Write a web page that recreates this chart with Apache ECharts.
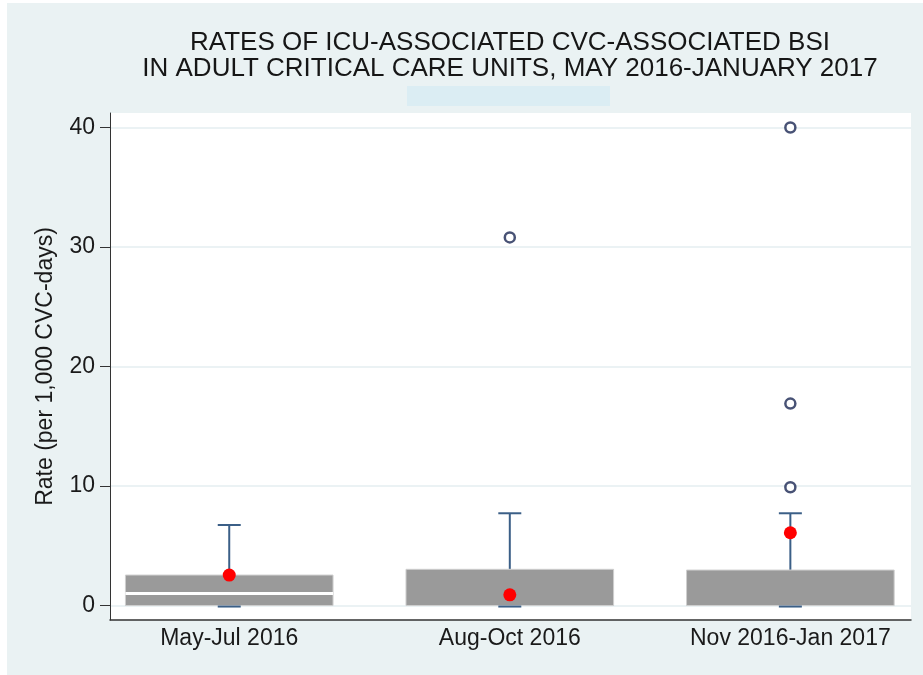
<!DOCTYPE html>
<html>
<head>
<meta charset="utf-8">
<script src="https://cdn.jsdelivr.net/npm/echarts@6/dist/echarts.min.js"></script>
<style>
  html, body { margin: 0; padding: 0; background: #fff; }
  #chart { width: 923px; height: 675px; }
</style>
</head>
<body>
<div id="chart"></div>
<script>
// Title lines
const titleLines = [
  'RATES OF ICU-ASSOCIATED CVC-ASSOCIATED BSI',
  'IN ADULT CRITICAL CARE UNITS, MAY 2016-JANUARY 2017'
];
const yAxisName = 'Rate (per 1,000 CVC-days)';

// Categories sit at x = 1, 2, 3
const categories = ['May-Jul 2016', 'Aug-Oct 2016', 'Nov 2016-Jan 2017'];
const yTicks = [0, 10, 20, 30, 40];

// Box plot summaries
const lowerAdjacent = [0, 0, 0];
const q1 = [0, 0, 0];
const median = [1.0, 0, 0];
const q3 = [2.55, 3.03, 2.97];
const upperAdjacent = [6.74, 7.72, 7.72];

// Means (red dots)
const means = [2.55, 0.9, 6.09];

// Outside values: [category index (1-based), rate]
const outliers = [
  [2, 30.8],
  [3, 40.0],
  [3, 16.9],
  [3, 9.9]
];

const FONT = "'Liberation Sans', Arial, sans-serif";
const BG = '#eaf2f3';
const WHISKER = '#3b5f87';
const BOX_W = 0.74;   // box width in x units
const CAP = 11.5;     // half cap width, px

const boxData = categories.map((c, i) =>
  [i + 1, lowerAdjacent[i], q1[i], median[i], q3[i], upperAdjacent[i]]);
const meanData = means.map((m, i) => [i + 1, m]);

const chart = echarts.init(document.getElementById('chart'));

const option = {
  backgroundColor: BG,
  animation: false,
  textStyle: { fontFamily: FONT },
  graphic: [
    { type: 'rect', left: 0, top: 0, shape: { width: 7, height: 675 }, style: { fill: '#fff' } },
    { type: 'rect', left: 0, top: 0, shape: { width: 923, height: 3 }, style: { fill: '#fff' } },
    { type: 'rect', left: 407, top: 86, shape: { width: 203, height: 20 }, style: { fill: '#dbedf3' } },
    {
      type: 'text', x: 510, y: 43,
      style: { text: titleLines[0], font: '26px ' + FONT, fill: '#161616', align: 'center', verticalAlign: 'middle' }
    },
    {
      type: 'text', x: 510, y: 69,
      style: { text: titleLines[1], font: '26px ' + FONT, fill: '#161616', align: 'center', verticalAlign: 'middle' }
    }
  ],
  grid: {
    left: 110,
    right: 12,
    top: 113,
    bottom: 55,
    show: true,
    backgroundColor: '#fff',
    borderWidth: 0
  },
  xAxis: {
    type: 'value',
    min: 0.575,
    max: 3.43,
    axisLine: { show: true, onZero: false, lineStyle: { color: '#333', width: 1.5 } },
    axisTick: { show: false },
    splitLine: { show: false },
    axisLabel: {
      customValues: [1, 2, 3],
      formatter: v => categories[Math.round(v) - 1] || '',
      color: '#1a1a1a',
      fontSize: 23,
      margin: 7
    }
  },
  yAxis: {
    type: 'value',
    min: -1.21,
    max: 41.21,
    name: yAxisName,
    nameLocation: 'middle',
    nameGap: 53,
    nameTextStyle: { color: '#1a1a1a', fontSize: 23 },
    axisLine: { show: true, onZero: false, lineStyle: { color: '#333', width: 1 } },
    axisTick: { show: true, customValues: yTicks, length: 10, lineStyle: { color: '#333' } },
    axisLabel: { customValues: yTicks, color: '#1a1a1a', fontSize: 23, margin: 15 },
    splitLine: { show: true, lineStyle: { color: '#e4eef0', width: 1.5 } }
  },
  series: [
    {
      name: 'Box',
      type: 'custom',
      data: boxData,
      encode: { x: 0, y: [1, 2, 3, 4, 5] },
      z: 2,
      renderItem: function (params, api) {
        const x = api.value(0);
        const pLow = api.coord([x, api.value(1)]);
        const pQ1 = api.coord([x, api.value(2)]);
        const pMed = api.coord([x, api.value(3)]);
        const pQ3 = api.coord([x, api.value(4)]);
        const pHigh = api.coord([x, api.value(5)]);
        const half = api.size([BOX_W, 0])[0] / 2;
        const cx = pQ3[0];
        const wStyle = { stroke: WHISKER, lineWidth: 2 };
        const children = [
          { type: 'line', shape: { x1: cx, y1: pQ3[1], x2: cx, y2: pHigh[1] }, style: wStyle },
          { type: 'line', shape: { x1: cx - CAP, y1: pHigh[1], x2: cx + CAP, y2: pHigh[1] }, style: wStyle },
          {
            type: 'rect',
            shape: { x: cx - half, y: pQ3[1], width: half * 2, height: pQ1[1] - pQ3[1] },
            style: { fill: '#9a9a9a', stroke: '#cfcfcf', lineWidth: 1 }
          }
        ];
        if (api.value(3) > api.value(2)) {
          children.push({
            type: 'line',
            shape: { x1: cx - half, y1: pMed[1], x2: cx + half, y2: pMed[1] },
            style: { stroke: '#fff', lineWidth: 3 }
          });
        }
        children.push(
          { type: 'line', shape: { x1: cx, y1: pQ1[1], x2: cx, y2: pLow[1] }, style: wStyle },
          { type: 'line', shape: { x1: cx - CAP, y1: pLow[1] + 1, x2: cx + CAP, y2: pLow[1] + 1 }, style: wStyle }
        );
        return { type: 'group', children: children };
      }
    },
    {
      name: 'Outside values',
      type: 'scatter',
      data: outliers,
      symbol: 'circle',
      symbolSize: 10,
      z: 3,
      itemStyle: { color: '#fff', borderColor: '#1a2752', borderWidth: 2.5 }
    },
    {
      name: 'Mean',
      type: 'scatter',
      data: meanData,
      symbol: 'circle',
      symbolSize: 13,
      z: 4,
      itemStyle: { color: '#ff0000', opacity: 1 }
    }
  ]
};

chart.setOption(option);
</script>
</body>
</html>
